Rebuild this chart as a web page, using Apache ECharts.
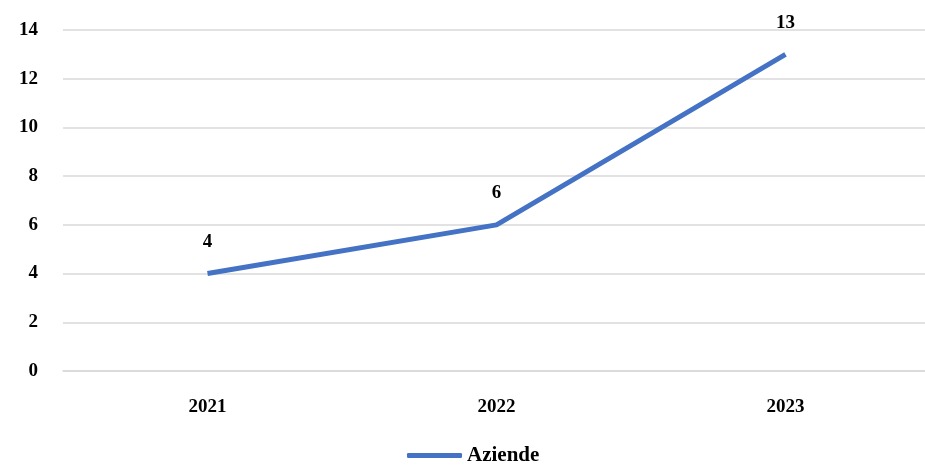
<!DOCTYPE html>
<html>
<head>
<meta charset="utf-8">
<script src="https://cdn.jsdelivr.net/npm/echarts@6/dist/echarts.min.js"></script>
<style>
  html, body { margin: 0; padding: 0; background: #fff; }
  #show { width: 925px; height: 472px; }
</style>
</head>
<body>
<div id="show"></div>
<script>
var years = ['2021', '2022', '2023'];
var aziende = [4, 6, 13];
var seriesName = 'Aziende';

var font = "'Liberation Serif', 'Times New Roman', serif";
var myChart = echarts.init(document.getElementById('show'));
myChart.setOption({
  animation: false,
  textStyle: { fontFamily: font },
  grid: { left: 63, width: 867, top: 30, bottom: 101, outerBoundsMode: 'none' },
  legend: {
    data: [seriesName],
    bottom: 1,
    left: 402,
    itemWidth: 55,
    itemHeight: 5,
    itemGap: 5,
    icon: 'roundRect',
    textStyle: { fontFamily: font, fontSize: 21, fontWeight: 'bold', color: '#000' }
  },
  xAxis: {
    type: 'category',
    data: years,
    boundaryGap: true,
    axisLine: { lineStyle: { color: '#d9d9d9', width: 1.5 } },
    axisTick: { show: false },
    axisLabel: { margin: 27, fontSize: 19, fontWeight: 'bold', color: '#000', fontFamily: font }
  },
  yAxis: {
    type: 'value',
    min: 0,
    max: 14,
    interval: 2,
    axisLine: { show: false },
    axisTick: { show: false },
    splitLine: { lineStyle: { color: '#d9d9d9', width: 1.5 } },
    axisLabel: { margin: 25, fontSize: 19, fontWeight: 'bold', color: '#000', fontFamily: font }
  },
  series: [{
    name: seriesName,
    type: 'line',
    data: aziende,
    symbol: 'circle',
    symbolSize: 0.1,
    lineStyle: { color: '#4472C4', width: 5 },
    itemStyle: { color: '#4472C4' },
    label: {
      show: true,
      position: 'top',
      distance: 22,
      fontSize: 19,
      fontWeight: 'bold',
      color: '#000',
      fontFamily: font
    }
  }]
});
</script>
</body>
</html>
